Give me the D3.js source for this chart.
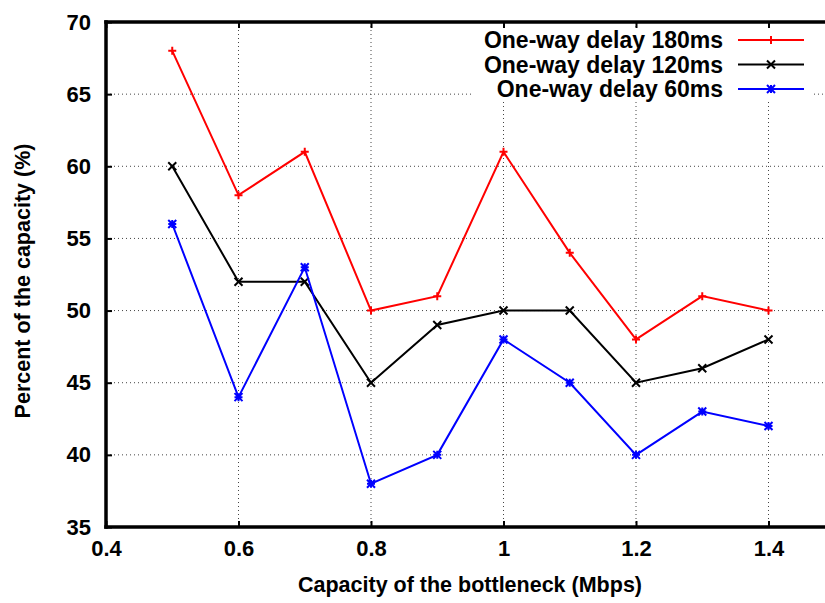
<!DOCTYPE html>
<html>
<head>
<meta charset="utf-8">
<script src="https://cdn.jsdelivr.net/npm/d3@7"></script>
<style>
  body { margin: 0; background: #fff; }
  text { font-family: "Liberation Sans", Arial, sans-serif; font-weight: bold; }
</style>
</head>
<body>
<script>
// data
var capacity = [0.5, 0.6, 0.7, 0.8, 0.9, 1.0, 1.1, 1.2, 1.3, 1.4];
var delay180 = [68, 58, 61, 50, 51, 61, 54, 48, 51, 50];
var delay120 = [60, 52, 52, 45, 49, 50, 50, 45, 46, 48];
var delay60  = [56, 44, 53, 38, 40, 48, 45, 40, 43, 42];
var seriesNames = ["One-way delay 180ms", "One-way delay 120ms", "One-way delay 60ms"];
var xTicks = [0.4, 0.6, 0.8, 1, 1.2, 1.4];
var yTicks = [35, 40, 45, 50, 55, 60, 65, 70];

var width = 825, height = 603;
var plotLeft = 106, plotTop = 22, plotBottom = 527;

var svg = d3.select("body").append("svg")
    .attr("width", width)
    .attr("height", height);

var x = d3.scaleLinear().domain([0.4, 1.6]).range([plotLeft, 901]);
var y = d3.scaleLinear().domain([35, 70]).range([plotBottom, plotTop]);

// grid
svg.append("g").selectAll("line")
    .data(yTicks.slice(1, -1))
  .enter().append("line")
    .attr("x1", plotLeft).attr("x2", width)
    .attr("y1", function(d) { return y(d); })
    .attr("y2", function(d) { return y(d); })
    .attr("stroke", "#444").attr("stroke-width", 1)
    .attr("stroke-dasharray", "1,3");

svg.append("g").selectAll("line")
    .data(xTicks.slice(1))
  .enter().append("line")
    .attr("x1", function(d) { return x(d); })
    .attr("x2", function(d) { return x(d); })
    .attr("y1", plotTop).attr("y2", plotBottom)
    .attr("stroke", "#444").attr("stroke-width", 1)
    .attr("stroke-dasharray", "1,3");

// legend background
svg.append("rect")
    .attr("x", 474).attr("y", 28)
    .attr("width", 338).attr("height", 72)
    .attr("fill", "#fff");

// axes
var xAxis = d3.axisBottom(x).tickValues(xTicks).tickSizeInner(-6).tickSizeOuter(0)
    .tickFormat(d3.format("~g")).tickPadding(13);
var yAxis = d3.axisLeft(y).tickValues(yTicks).tickSizeInner(-6).tickSizeOuter(0)
    .tickPadding(15);

var gx = svg.append("g").attr("transform", "translate(0," + plotBottom + ")").call(xAxis);
var gy = svg.append("g").attr("transform", "translate(" + plotLeft + ",0)").call(yAxis);
var gtop = svg.append("g").attr("transform", "translate(0," + plotTop + ")")
    .call(d3.axisTop(x).tickValues(xTicks).tickSizeInner(-6).tickSizeOuter(0).tickFormat(""));

[gx, gy, gtop].forEach(function(g) {
  g.select(".domain").attr("stroke", "#000").attr("stroke-width", 3.5);
  g.selectAll(".tick line").attr("stroke", "#000").attr("stroke-width", 2);
  g.selectAll(".tick text").attr("fill", "#000")
    .style("font-size", "22px").style("font-weight", "bold")
    .style("font-family", "'Liberation Sans', Arial, sans-serif");
});
gx.select(".domain").attr("d", "M" + (plotLeft - 1.75) + ",0H" + width);
gy.select(".domain").attr("d", "M0," + (plotBottom + 1.75) + "V" + (plotTop - 1.75));
gtop.select(".domain").attr("d", "M" + (plotLeft - 1.75) + ",0H" + width);

// axis titles
svg.append("text")
    .attr("x", 470).attr("y", 592)
    .attr("text-anchor", "middle")
    .style("font-size", "21.5px")
    .text("Capacity of the bottleneck (Mbps)");

svg.append("text")
    .attr("transform", "translate(30,281) rotate(-90)")
    .attr("text-anchor", "middle")
    .style("font-size", "21.5px")
    .text("Percent of the capacity (%)");

// series
var series = [
  { name: seriesNames[0], values: delay180, color: "#ff0000", mark: "plus" },
  { name: seriesNames[1], values: delay120, color: "#000000", mark: "cross" },
  { name: seriesNames[2], values: delay60,  color: "#0000ff", mark: "star" }
];

var line = d3.line()
    .x(function(d) { return x(d[0]); })
    .y(function(d) { return y(d[1]); });

function markPath(type, s) {
  if (type == "plus") return "M" + (-s) + ",0H" + s + "M0," + (-s) + "V" + s;
  if (type == "cross") return "M" + (-s) + "," + (-s) + "L" + s + "," + s + "M" + (-s) + "," + s + "L" + s + "," + (-s);
  return "M" + (-s) + ",0H" + s + "M0," + (-s) + "V" + s +
         "M" + (-s) + "," + (-s) + "L" + s + "," + s + "M" + (-s) + "," + s + "L" + s + "," + (-s);
}

series.forEach(function(sr) {
  var pts = d3.zip(capacity, sr.values);
  svg.append("path")
      .datum(pts)
      .attr("d", line)
      .attr("fill", "none")
      .attr("stroke", sr.color)
      .attr("stroke-width", 2);
  svg.append("g").selectAll("path")
      .data(pts)
    .enter().append("path")
      .attr("transform", function(d) { return "translate(" + x(d[0]) + "," + y(d[1]) + ")"; })
      .attr("d", markPath(sr.mark, 4))
      .attr("stroke", sr.color)
      .attr("stroke-width", 2)
      .attr("fill", "none");
});

// legend
var legend = svg.append("g").selectAll("g")
    .data(series)
  .enter().append("g")
    .attr("transform", function(d, i) { return "translate(0," + (40 + i * 24.5) + ")"; });

legend.append("text")
    .attr("x", 723).attr("y", 8)
    .attr("text-anchor", "end")
    .style("font-size", "23px")
    .text(function(d) { return d.name; });

legend.append("line")
    .attr("x1", 738).attr("x2", 804)
    .attr("stroke", function(d) { return d.color; })
    .attr("stroke-width", 2);

legend.append("path")
    .attr("transform", "translate(771,0)")
    .attr("d", function(d) { return markPath(d.mark, 4); })
    .attr("stroke", function(d) { return d.color; })
    .attr("stroke-width", 2);
</script>
</body>
</html>
